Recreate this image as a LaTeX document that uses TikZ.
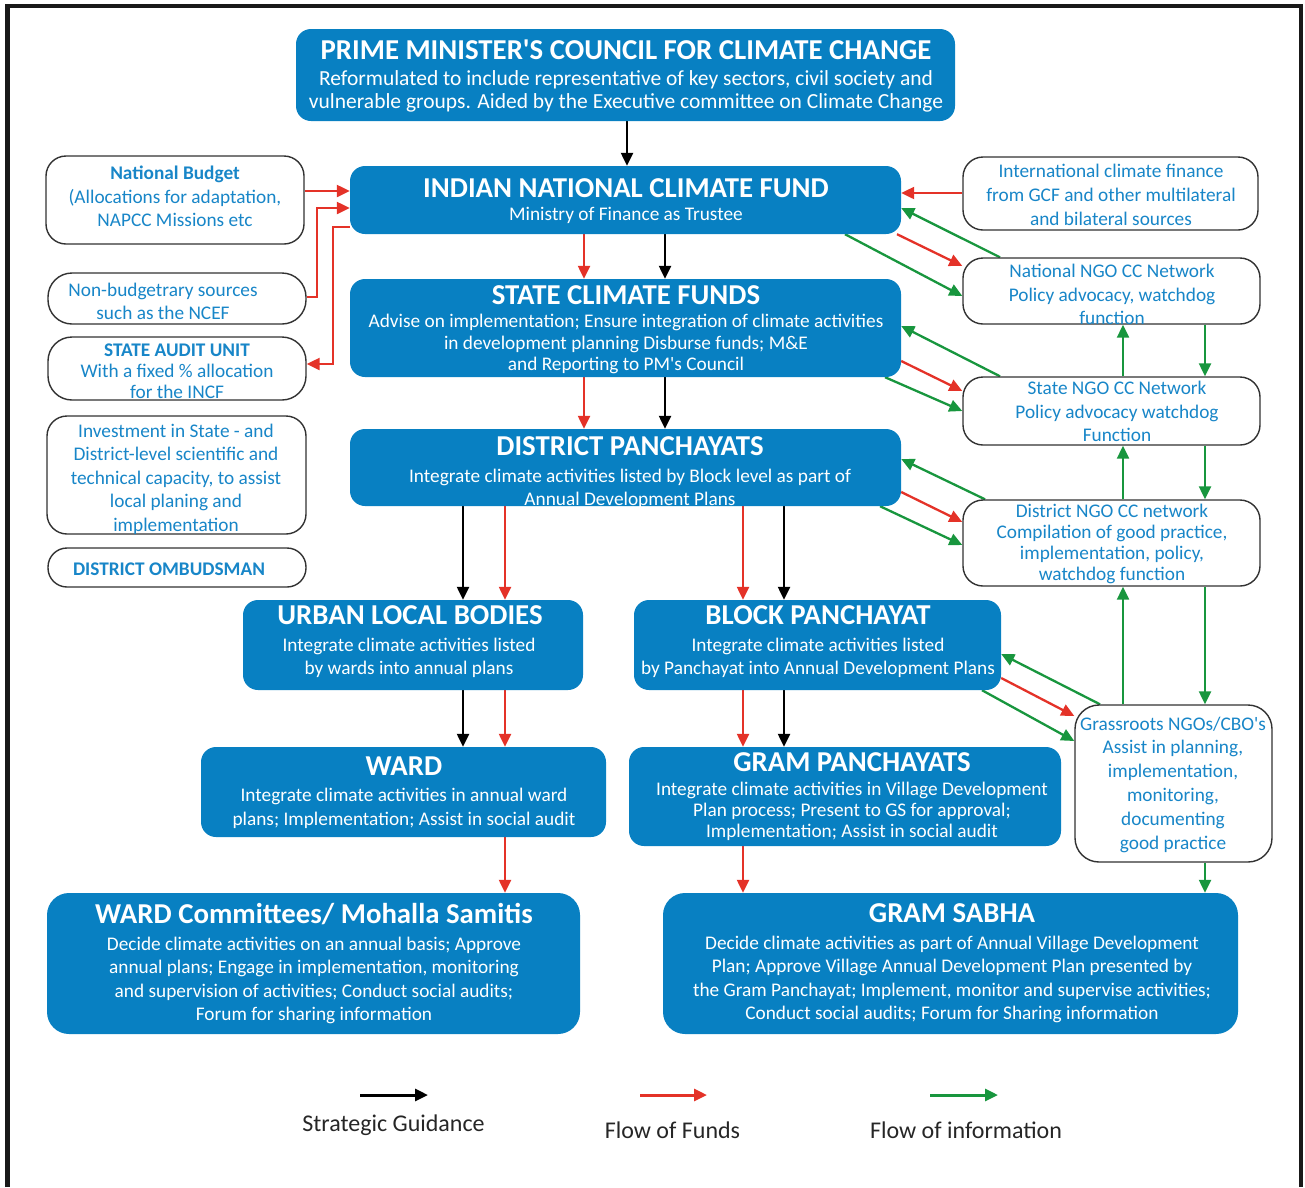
\documentclass[tikz,border=0pt]{standalone}
\usepackage{fontspec}
\setmainfont[Ligatures=TeXOff]{Carlito}
\usetikzlibrary{arrows.meta,backgrounds}
\definecolor{boxblue}{RGB}{8,128,194}
\definecolor{txtblue}{RGB}{24,134,200}
\definecolor{fundred}{RGB}{228,50,40}
\definecolor{infogreen}{RGB}{24,150,62}
\definecolor{outline}{RGB}{50,50,50}
\newcommand\fs[2]{\fontsize{#1}{#2}\selectfont}
\begin{document}
\begin{tikzpicture}[x=1pt,y=-1pt,
  bluebox/.style={fill=boxblue, draw=none, rounded corners=15, inner sep=0},
  whitebox/.style={fill=white, draw=outline, line width=1.4, rounded corners=20, inner sep=0},
  ttl/.style={text=white, font=\fs{28.8}{32}\bfseries, inner sep=0, text height=18.5pt, text depth=0pt},
  bodyw/.style={text=white, align=center, inner sep=0, yshift=-1.5pt},
  bodyb/.style={text=txtblue, align=center, inner sep=0, yshift=-1pt},
  conn/.style={line width=2.3, -{Triangle[length=13pt,width=12pt]}},
  guide/.style={conn, draw=black},
  fund/.style={conn, draw=fundred},
  info/.style={conn, draw=infogreen},
  legtext/.style={font=\fs{24}{28}, text=black!85, inner sep=0}
]
\useasboundingbox (0,0) rectangle (1305,1187);
\draw[line width=4.5, black!90] (7.5,1187) -- (7.5,6) -- (1301,6) -- (1301,1187);

% ---------- main blue boxes ----------
\node[bluebox, minimum width=659, minimum height=92] (pm) at (625.5,75) {};
\node[ttl] (pmT) at (626,50) {PRIME MINISTER'S COUNCIL FOR CLIMATE CHANGE};
\node[bodyw, font=\fs{21.5}{23}] (pmB) at (626,89.5) {Reformulated to include representative of key sectors, civil society and\\vulnerable groups. Aided by the Executive committee on Climate Change};

\node[bluebox, minimum width=551, minimum height=68] (incf) at (625.5,200) {};
\node[ttl] (incfT) at (626,188) {INDIAN NATIONAL CLIMATE FUND};
\node[bodyw, font=\fs{19.3}{22}] (incfB) at (626,214) {Ministry of Finance as Trustee};

\node[bluebox, minimum width=551, minimum height=98] (scf) at (625.5,328) {};
\node[ttl] (scfT) at (626,295) {STATE CLIMATE FUNDS};
\node[bodyw, font=\fs{19.3}{21.5}] (scfB) at (626,342.5) {Advise on implementation; Ensure integration of climate activities\\in development planning Disburse funds; M\&E\\and Reporting to PM's Council};

\node[bluebox, minimum width=551, minimum height=77] (dp) at (625.5,467.5) {};
\node[ttl] (dpT) at (630,446) {DISTRICT PANCHAYATS};
\node[bodyw, font=\fs{19.3}{23}] (dpB) at (630,487.5) {Integrate climate activities listed by Block level as part of\\Annual Development Plans};

\node[bluebox, minimum width=340, minimum height=90] (ulb) at (413,645) {};
\node[ttl] (ulbT) at (410,615) {URBAN LOCAL BODIES};
\node[bodyw, font=\fs{19.3}{23}] (ulbB) at (409,656.5) {Integrate climate activities listed\\by wards into annual plans};

\node[bluebox, minimum width=367, minimum height=90] (bp) at (817.5,645) {};
\node[ttl] (bpT) at (818,615) {BLOCK PANCHAYAT};
\node[bodyw, font=\fs{19.3}{23}] (bpB) at (818,656.5) {Integrate climate activities listed\\by Panchayat into Annual Development Plans};

\node[bluebox, minimum width=405, minimum height=90] (ward) at (403.5,792) {};
\node[ttl] (wardT) at (404,766) {WARD};
\node[bodyw, font=\fs{19.3}{24}] (wardB) at (404,807) {Integrate climate activities in annual ward\\plans; Implementation; Assist in social audit};

\node[bluebox, minimum width=432, minimum height=99] (gp) at (845,796.5) {};
\node[ttl] (gpT) at (852,762) {GRAM PANCHAYATS};
\node[bodyw, font=\fs{19.3}{21}] (gpB) at (852,810) {Integrate climate activities in Village Development\\Plan process; Present to GS for approval;\\Implementation; Assist in social audit};

\node[bluebox, minimum width=533, minimum height=141, rounded corners=22] (wc) at (313.5,963.5) {};
\node[ttl] (wcT) at (314,914) {WARD Committees/ Mohalla Samitis};
\node[bodyw, font=\fs{19.3}{23.3}] (wcB) at (314,979) {Decide climate activities on an annual basis; Approve\\annual plans; Engage in implementation, monitoring\\and supervision of activities; Conduct social audits;\\Forum for sharing information};

\node[bluebox, minimum width=575, minimum height=141, rounded corners=22] (gs) at (950.5,963.5) {};
\node[ttl] (gsT) at (952,913) {GRAM SABHA};
\node[bodyw, font=\fs{19.3}{23.3}] (gsB) at (952,978) {Decide climate activities as part of Annual Village Development\\Plan; Approve Village Annual Development Plan presented by\\the Gram Panchayat; Implement, monitor and supervise activities;\\Conduct social audits; Forum for Sharing information};

% ---------- left white boxes ----------
\node[whitebox, minimum width=258, minimum height=88] (nb) at (175,200) {};
\node[bodyb, font=\fs{19.3}{23.5}] (nbT) at (175,195.5) {{\bfseries National Budget}\\(Allocations for adaptation,\\NAPCC Missions etc};

\node[whitebox, minimum width=258, minimum height=51, rounded corners=24] (nbs) at (177,298.5) {};
\node[bodyb, font=\fs{19.3}{23}] (nbsT) at (163,300.5) {Non-budgetrary sources\\such as the NCEF};

\node[whitebox, minimum width=258, minimum height=63, rounded corners=24] (sau) at (177,368.5) {};
\node[bodyb, font=\fs{19.3}{21}] (sauT) at (177,370) {{\bfseries STATE AUDIT UNIT}\\With a fixed \% allocation\\for the INCF};

\node[whitebox, minimum width=259, minimum height=118] (inv) at (176.5,475) {};
\node[bodyb, font=\fs{19.3}{23.5}] (invT) at (176,478) {Investment in State - and\\District-level scientific and\\technical capacity, to assist\\local planing and\\implementation};

\node[whitebox, minimum width=258, minimum height=39, rounded corners=19] (omb) at (177,567.5) {};
\node[bodyb, font=\fs{19.3}{22}\bfseries] (ombT) at (169,568) {DISTRICT OMBUDSMAN};

% ---------- right white boxes ----------
\node[whitebox, minimum width=295, minimum height=73] (intl) at (1110.5,193.5) {};
\node[bodyb, font=\fs{19.3}{24}] (intlT) at (1111,194) {International climate finance\\from GCF and other multilateral\\and bilateral sources};

\node[whitebox, minimum width=297, minimum height=66] (ngoN) at (1111.5,291) {};
\node[bodyb, font=\fs{19.3}{23.5}] (ngoNT) at (1112,293.5) {National NGO CC Network\\Policy advocacy, watchdog\\function};

\node[whitebox, minimum width=297, minimum height=68] (ngoS) at (1111.5,411) {};
\node[bodyb, font=\fs{19.3}{23.5}] (ngoST) at (1117,410.5) {State NGO CC Network\\Policy advocacy watchdog\\Function};

\node[whitebox, minimum width=297, minimum height=86] (ngoD) at (1111.5,543) {};
\node[bodyb, font=\fs{19.3}{21}] (ngoDT) at (1112,542.5) {District NGO CC network\\Compilation of good practice,\\implementation, policy,\\watchdog function};

\node[whitebox, minimum width=197, minimum height=157, rounded corners=24] (grs) at (1173.5,783.5) {};
\node[bodyb, font=\fs{19.3}{23.8}] (grsT) at (1173,783.5) {Grassroots NGOs/CBO's\\Assist in planning,\\implementation,\\monitoring,\\documenting\\good practice};

% ---------- legend ----------
\coordinate (lgK1) at (360,1095); \coordinate (lgK2) at (428,1095);
\coordinate (lgR1) at (640,1095); \coordinate (lgR2) at (707,1095);
\coordinate (lgG1) at (930,1095); \coordinate (lgG2) at (998,1095);
\node[legtext] (lgKT) at (393.5,1125) {Strategic Guidance};
\node[legtext] (lgRT) at (672.5,1130) {Flow of Funds};
\node[legtext] (lgGT) at (966,1130) {Flow of information};

% ---------- connectors ----------
\begin{scope}[on background layer]
\draw[guide, line width=3] (lgK1) -- (lgK2);
\draw[fund, line width=3] (lgR1) -- (lgR2);
\draw[info, line width=3] (lgG1) -- (lgG2);

% vertical main chain
\draw[guide] (627,0 |- pm.south) -- (627,0 |- incf.north);
\draw[fund]  (584,0 |- incf.south) -- (584,0 |- scf.north);
\draw[guide] (665,0 |- incf.south) -- (665,0 |- scf.north);
\draw[fund]  (584,0 |- scf.south) -- (584,0 |- dp.north);
\draw[guide] (665,0 |- scf.south) -- (665,0 |- dp.north);
\draw[guide] (463,0 |- dp.south) -- (463,0 |- ulb.north);
\draw[fund]  (505,0 |- dp.south) -- (505,0 |- ulb.north);
\draw[fund]  (743,0 |- dp.south) -- (743,0 |- bp.north);
\draw[guide] (784,0 |- dp.south) -- (784,0 |- bp.north);
\draw[guide] (463,0 |- ulb.south) -- (463,0 |- ward.north);
\draw[fund]  (505,0 |- ulb.south) -- (505,0 |- ward.north);
\draw[fund]  (743,0 |- bp.south) -- (743,0 |- gp.north);
\draw[guide] (784,0 |- bp.south) -- (784,0 |- gp.north);
\draw[fund]  (505,0 |- ward.south) -- (505,0 |- wc.north);
\draw[fund]  (743,0 |- gp.south) -- (743,0 |- gs.north);
\draw[info]  (1205,0 |- grs.south) -- (1205,0 |- gs.north);

% left funds
\draw[fund] (nb.east |- 0,191) -- (incf.west |- 0,191);
\draw[fund] (nbs.east |- 0,297) -- (317,297) |- (incf.west |- 0,208);
\draw[fund] (incf.west |- 0,227) -- (333,227) |- (sau.east |- 0,364);

% right side
\draw[fund] (intl.west |- 0,193) -- (incf.east |- 0,193);
\draw[info] (1000,0 |- ngoN.north) -- (incf.east |- 0,208);
\draw[fund] (897,0 |- incf.south) -- (ngoN.west |- 0,266);
\draw[info] (845,0 |- incf.south) -- (ngoN.west |- 0,296);

\draw[info] (1000,0 |- ngoS.north) -- (scf.east |- 0,326);
\draw[fund] (scf.east |- 0,361) -- (ngoS.west |- 0,391);
\draw[info] (885,0 |- scf.south) -- (ngoS.west |- 0,411);

\draw[info] (985,0 |- ngoD.north) -- (dp.east |- 0,459);
\draw[fund] (dp.east |- 0,492) -- (ngoD.west |- 0,522);
\draw[info] (880,0 |- dp.south) -- (ngoD.west |- 0,545);

\draw[info] (1100,0 |- grs.north) -- (bp.east |- 0,654);
\draw[fund] (bp.east |- 0,678) -- (grs.west |- 0,716);
\draw[info] (982,0 |- bp.south) -- (grs.west |- 0,741);

% NGO chain verticals
\draw[info] (1123,0 |- ngoS.north) -- (1123,0 |- ngoN.south);
\draw[info] (1205,0 |- ngoN.south) -- (1205,0 |- ngoS.north);
\draw[info] (1123,0 |- ngoD.north) -- (1123,0 |- ngoS.south);
\draw[info] (1205,0 |- ngoS.south) -- (1205,0 |- ngoD.north);
\draw[info] (1123,0 |- grs.north) -- (1123,0 |- ngoD.south);
\draw[info] (1205,0 |- ngoD.south) -- (1205,0 |- grs.north);
\end{scope}
\end{tikzpicture}
\end{document}
